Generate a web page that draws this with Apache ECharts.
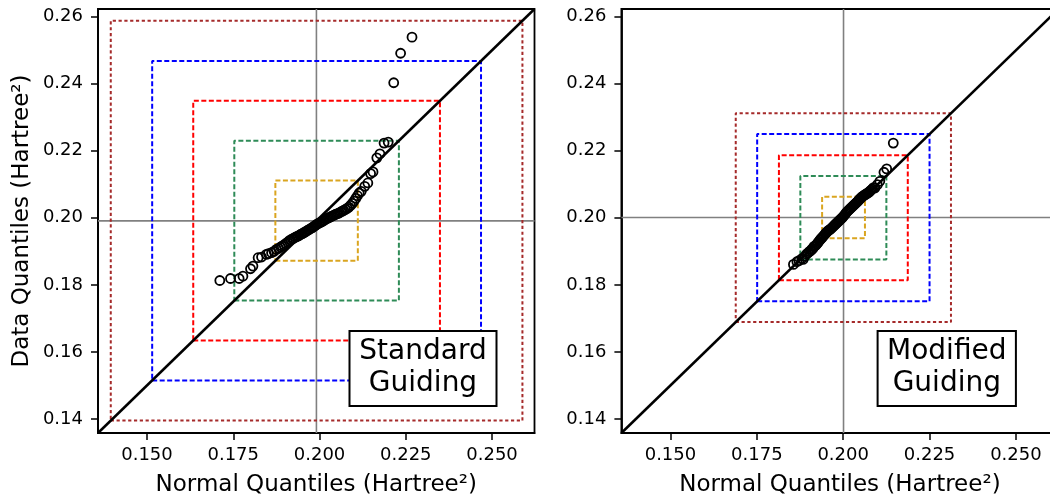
<!DOCTYPE html>
<html><head><meta charset="utf-8">
<script src="https://cdn.jsdelivr.net/npm/echarts@6/dist/echarts.min.js"></script>
<style>html,body{margin:0;padding:0;background:#fff}#c{width:1050px;height:495px}</style>
</head><body><div id="c"></div>
<script>
const axisMin = 0.1358, axisMax = 0.2623;
const xTickValues = [0.150, 0.175, 0.200, 0.225, 0.250];
const xTickLabels = ['0.150', '0.175', '0.200', '0.225', '0.250'];
const yTickValues = [0.14, 0.16, 0.18, 0.20, 0.22, 0.24, 0.26];
const yTickLabels = ['0.14', '0.16', '0.18', '0.20', '0.22', '0.24', '0.26'];
const xName = 'Normal Quantiles (Hartree²)';
const yName = 'Data Quantiles (Hartree²)';
const panelTitles = ['Standard\nGuiding', 'Modified\nGuiding'];

// Standard guiding QQ points
const leftX = [0.1711,0.1742,0.1767,0.1778,0.1800,0.1807,0.1822,0.1832,0.1846,0.1852,0.1861,0.1868,0.1875,
  0.1881,0.1887,0.1892,0.1897,0.1902,0.1907,0.1912,0.1916,0.1921,0.1925,0.1930,0.1934,0.1938,0.1942,0.1946,0.1950,
  0.1954,0.1958,0.1962,0.1966,0.1970,0.1974,0.1978,0.1982,0.1986,0.1990,0.1994,0.1998,0.2002,0.2006,0.2010,0.2014,
  0.2018,0.2022,0.2026,0.2030,0.2034,0.2038,0.2042,0.2046,0.2050,0.2054,0.2058,0.2062,0.2066,0.2070,0.2075,0.2080,
  0.2085,0.2090,0.2095,0.2100,0.2105,0.2110,0.2115,
  0.2121,0.2131,0.2140,0.2148,0.2155,0.2166,0.2175,0.2187,0.2199,0.2215,0.2235,0.2268];
const leftY = [0.1813,0.1819,0.1819,0.1826,0.1848,0.1856,0.1881,0.1883,0.1891,0.1893,0.1896,0.1900,0.1906,
  0.1909,0.1913,0.1916,0.1919,0.1923,0.1927,0.1931,0.1934,0.1937,0.1939,0.1942,0.1944,0.1946,0.1948,0.1951,0.1953,
  0.1955,0.1958,0.1960,0.1963,0.1965,0.1968,0.1970,0.1973,0.1976,0.1979,0.1982,0.1984,0.1986,0.1988,0.1991,0.1993,
  0.1996,0.1998,0.2000,0.2002,0.2004,0.2006,0.2008,0.2010,0.2012,0.2013,0.2015,0.2018,0.2020,0.2022,0.2025,0.2028,
  0.2032,0.2037,0.2043,0.2050,0.2058,0.2066,0.2074,
  0.2079,0.2094,0.2104,0.2132,0.2137,0.2179,0.2191,0.2223,0.2226,0.2403,0.2491,0.2539];

// Modified guiding QQ points
const rightX = [0.1856,0.1866,0.1872,0.1880,0.1884,0.1889,
  0.1894,0.1898,0.1902,0.1906,0.1909,0.1912,0.1915,0.1918,0.1921,0.1924,0.1927,0.1930,0.1933,0.1936,0.1939,0.1942,
  0.1945,0.1948,0.1951,0.1954,0.1957,0.1960,0.1963,0.1966,0.1969,0.1972,0.1975,0.1978,0.1981,0.1984,0.1987,0.1990,
  0.1993,0.1996,0.1999,0.2002,0.2005,0.2008,0.2011,0.2014,0.2017,0.2020,0.2023,0.2026,0.2029,0.2032,0.2035,0.2038,
  0.2041,0.2044,0.2047,0.2050,0.2053,0.2056,0.2059,0.2062,0.2065,0.2068,0.2071,0.2074,0.2077,0.2080,0.2084,0.2088,
  0.2092,0.2099,0.2106,0.2118,0.2126,0.2145];
const rightY = [0.1861,0.1869,0.1872,0.1878,0.1876,0.1885,
  0.1892,0.1895,0.1899,0.1902,0.1906,0.1908,0.1914,0.1916,0.1918,0.1922,0.1926,0.1930,0.1934,0.1938,0.1941,0.1945,
  0.1948,0.1952,0.1956,0.1959,0.1962,0.1964,0.1966,0.1969,0.1972,0.1975,0.1978,0.1981,0.1984,0.1987,0.1990,0.1993,
  0.1996,0.1999,0.2002,0.2006,0.2010,0.2014,0.2018,0.2021,0.2024,0.2027,0.2030,0.2033,0.2036,0.2039,0.2042,0.2045,
  0.2048,0.2051,0.2055,0.2058,0.2061,0.2064,0.2066,0.2068,0.2070,0.2072,0.2074,0.2076,0.2079,0.2082,0.2086,0.2090,
  0.2089,0.2099,0.2109,0.2136,0.2146,0.2223];

const leftMean = 0.1991, rightMean = 0.2001;
const boxColors = ['#daa520', '#2e8b57', '#ff0000', '#0000ff', '#a52a2a'];
const leftBoxLo = [0.1872, 0.1753, 0.1634, 0.1515, 0.1395];
const leftBoxHi = [0.2111, 0.2230, 0.2349, 0.2468, 0.2588];
const rightBoxLo = [0.1939, 0.1876, 0.1814, 0.1751, 0.1689];
const rightBoxHi = [0.2063, 0.2125, 0.2187, 0.2250, 0.2312];

const FONT = '"DejaVu Sans", sans-serif';
function lookup(vals, labels) {
  return function (v) {
    for (let i = 0; i < vals.length; i++) if (Math.abs(v - vals[i]) < 1e-9) return labels[i];
    return '';
  };
}
function makeX(gi) {
  return {
    type: 'value', gridIndex: gi, min: axisMin, max: axisMax,
    axisLine: { show: true, onZero: false, lineStyle: { color: '#000', width: 1.8 } },
    axisTick: { show: true, customValues: xTickValues, length: 7, lineStyle: { color: '#000', width: 1.5 } },
    axisLabel: { customValues: xTickValues, formatter: lookup(xTickValues, xTickLabels), fontSize: 18, color: '#000', margin: 13, fontFamily: FONT },
    splitLine: { show: false },
    name: xName, nameLocation: 'middle', nameGap: 41,
    nameTextStyle: { fontSize: 23, color: '#000', fontFamily: FONT }
  };
}
function makeY(gi, withName) {
  const a = {
    type: 'value', gridIndex: gi, min: axisMin, max: axisMax,
    axisLine: { show: true, onZero: false, lineStyle: { color: '#000', width: 1.8 } },
    axisTick: { show: true, customValues: yTickValues, length: 7, lineStyle: { color: '#000', width: 1.5 } },
    axisLabel: { customValues: yTickValues, formatter: lookup(yTickValues, yTickLabels), fontSize: 18, color: '#000', margin: 15, fontFamily: FONT },
    splitLine: { show: false }
  };
  if (withName) {
    a.name = yName; a.nameLocation = 'middle'; a.nameGap = 64;
    a.nameTextStyle = { fontSize: 23, color: '#000', fontFamily: FONT };
  }
  return a;
}
function panelSeries(gi, xs, ys, mean, lo, hi) {
  const s = [];
  const lineBase = { type: 'line', xAxisIndex: gi, yAxisIndex: gi, symbol: 'none', silent: true, animation: false };
  s.push(Object.assign({}, lineBase, { data: [[mean, axisMin], [mean, axisMax]], lineStyle: { color: '#808080', width: 1.6 }, z: 1 }));
  s.push(Object.assign({}, lineBase, { data: [[axisMin, mean], [axisMax, mean]], lineStyle: { color: '#808080', width: 1.6 }, z: 1 }));
  for (let k = lo.length - 1; k >= 0; k--) {
    const a = lo[k], b = hi[k];
    s.push(Object.assign({}, lineBase, {
      data: [[a, a], [b, a], [b, b], [a, b], [a, a]],
      lineStyle: { color: boxColors[k], width: 2, type: k === 4 ? [3.2, 2.6] : [5, 2.5] }, z: 2
    }));
  }
  s.push(Object.assign({}, lineBase, { data: [[axisMin, axisMin], [axisMax, axisMax]], lineStyle: { color: '#000', width: 2.5 }, z: 3 }));
  s.push({
    type: 'scatter', xAxisIndex: gi, yAxisIndex: gi, symbol: 'circle', symbolSize: 9, animation: false,
    data: xs.map((x, i) => [x, ys[i]]),
    itemStyle: { color: 'rgba(0,0,0,0)', borderColor: '#000', borderWidth: 1.8, opacity: 1 }, z: 4
  });
  return s;
}
const chart = echarts.init(document.getElementById('c'), null, { renderer: 'canvas' });
chart.setOption({
  animation: false,
  textStyle: { fontFamily: FONT },
  grid: [
    { left: 98, top: 9, width: 436.5, height: 424, show: true, borderColor: '#000', borderWidth: 1.8, containLabel: false, outerBoundsMode: 'none' },
    { left: 621.4, top: 9, width: 437, height: 424, show: true, borderColor: '#000', borderWidth: 1.8, containLabel: false, outerBoundsMode: 'none' }
  ],
  xAxis: [makeX(0), makeX(1)],
  yAxis: [makeY(0, true), makeY(1, false)],
  series: [].concat(
    panelSeries(0, leftX, leftY, leftMean, leftBoxLo, leftBoxHi),
    panelSeries(1, rightX, rightY, rightMean, rightBoxLo, rightBoxHi)
  ),
  graphic: [
    { type: 'rect', z: 100, shape: { x: 349.5, y: 331, width: 147, height: 75 }, style: { fill: '#fff', stroke: '#000', lineWidth: 2 } },
    { type: 'text', z: 101, x: 423, y: 368, style: { text: panelTitles[0], fontSize: 28, fontFamily: FONT, fill: '#000', align: 'center', verticalAlign: 'middle', lineHeight: 32 } },
    { type: 'rect', z: 100, shape: { x: 877.6, y: 331, width: 138.3, height: 75 }, style: { fill: '#fff', stroke: '#000', lineWidth: 2 } },
    { type: 'text', z: 101, x: 946.8, y: 368, style: { text: panelTitles[1], fontSize: 28, fontFamily: FONT, fill: '#000', align: 'center', verticalAlign: 'middle', lineHeight: 32 } }
  ]
});
</script></body></html>
